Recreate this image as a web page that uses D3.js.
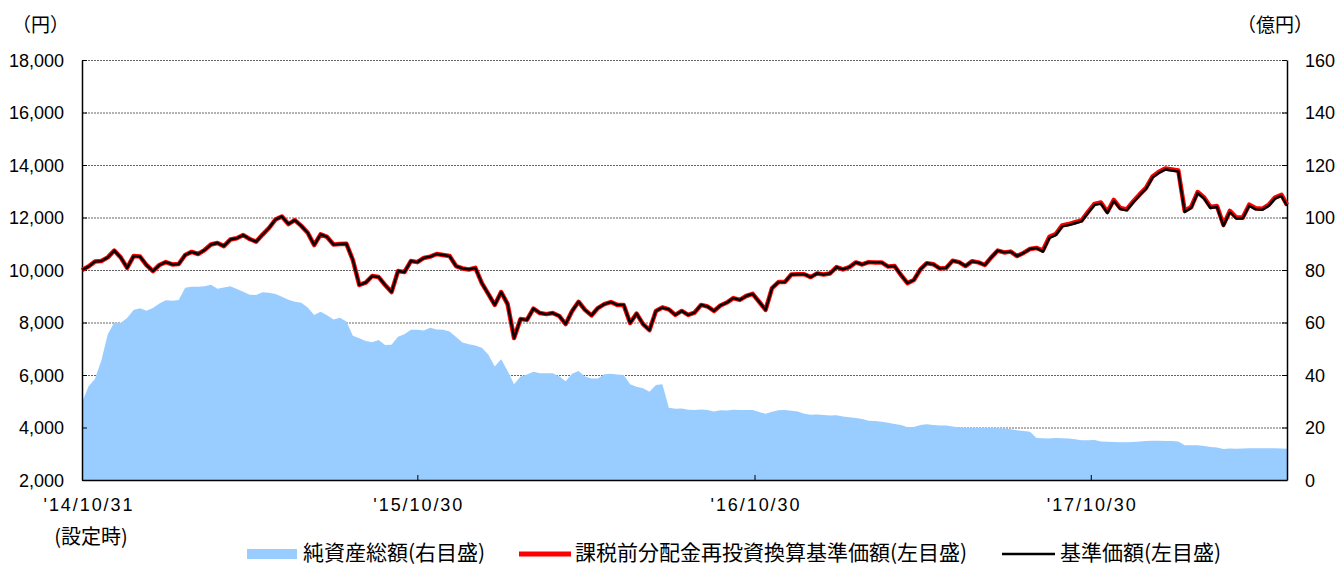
<!DOCTYPE html>
<html>
<head>
<meta charset="utf-8">
<script src="https://cdn.jsdelivr.net/npm/d3@7"></script>
<style>
  body { margin: 0; background: #fff; }
  svg text { font-family: "Liberation Sans", "Noto Sans CJK JP", sans-serif; fill: #000; }
  .jp { font-family: "Noto Sans CJK JP", sans-serif; }
</style>
</head>
<body>
<div id="chart"></div>
<script>
// Series start (設定日) and last date, weekly values in between
const startDate = "2014-10-31";
const endDate = "2018-05-31";

// 基準価額 (円), read off the chart roughly once a week
const navValues = [
  10000,10130,10320,10340,10480,10740,10480,10080,10530,10510,
  10190,9960,10190,10300,10210,10230,10570,10690,10610,10760,
  10970,11030,10910,11160,11210,11330,11180,11080,11350,11600,
  11920,12040,11750,11900,11680,11420,10950,11360,11260,10970,
  10990,11000,10380,9430,9520,9770,9730,9430,9160,9960,
  9920,10340,10300,10460,10510,10610,10570,10530,10150,10060,
  10020,10080,9500,9090,8670,9160,8700,7410,8130,8100,
  8530,8360,8320,8360,8250,7940,8440,8790,8480,8270,
  8550,8700,8780,8670,8670,7980,8340,7940,7710,8440,
  8570,8500,8290,8440,8290,8380,8670,8610,8440,8650,
  8760,8930,8860,9010,9090,8790,8480,9310,9540,9540,
  9830,9840,9840,9730,9870,9830,9870,10110,10020,10110,
  10290,10210,10300,10290,10290,10130,10150,9810,9500,9620,
  10020,10260,10220,10060,10080,10350,10300,10150,10330,10290,
  10190,10480,10740,10670,10700,10530,10650,10800,10840,10700,
  11220,11330,11660,11710,11780,11850,12170,12480,12530,12170,
  12630,12320,12270,12570,12840,13090,13520,13700,13830,13790,
  13750,12210,12360,12930,12720,12360,12400,11680,12210,11960,
  11960,12450,12310,12290,12440,12720,12820,12440
];

// 課税前分配金再投資換算基準価額 (円)
const reinvestValues = [
  10000,10130,10320,10340,10480,10740,10480,10080,10530,10510,
  10190,9960,10190,10300,10210,10230,10570,10690,10610,10760,
  10970,11030,10910,11160,11210,11330,11180,11080,11350,11600,
  11920,12040,11750,11900,11680,11420,10950,11360,11260,10970,
  10990,11000,10380,9430,9520,9770,9730,9430,9160,9960,
  9920,10340,10300,10460,10510,10610,10570,10530,10150,10060,
  10020,10080,9500,9090,8670,9160,8700,7410,8130,8100,
  8530,8360,8320,8360,8250,7940,8440,8790,8480,8270,
  8550,8700,8780,8670,8670,7980,8340,7940,7710,8440,
  8570,8500,8290,8440,8290,8380,8670,8610,8440,8650,
  8760,8930,8860,9010,9090,8790,8480,9310,9540,9540,
  9830,9840,9840,9730,9870,9830,9870,10110,10020,10110,
  10290,10210,10300,10290,10290,10130,10150,9810,9500,9620,
  10020,10260,10220,10060,10080,10350,10300,10150,10330,10290,
  10190,10480,10740,10670,10700,10530,10650,10800,10840,10740,
  11260,11370,11700,11750,11820,11890,12210,12520,12570,12210,
  12670,12360,12310,12610,12880,13130,13560,13740,13870,13830,
  13790,12250,12400,12970,12760,12400,12440,11720,12250,12000,
  12000,12490,12350,12330,12480,12760,12860,12480
];

// 純資産総額 (億円)
const netAssetValues = [
  29.5,35.6,38.5,45.5,55.5,60,59.8,61.7,64.8,65.4,
  64.5,65.5,67.2,68.5,68.3,68.6,73.2,73.6,73.6,73.8,
  74.4,72.9,73.3,73.8,72.8,71.7,70.6,70.5,71.5,71.3,
  70.9,69.8,68.7,67.9,67.5,65.7,62.9,64.1,62.8,61.1,
  61.8,60.4,55,54,53,52.5,53.3,51.4,51.5,54.6,
  55.5,57.2,57.2,57,58,57.3,57.2,56.6,54.5,52.4,
  51.7,51.2,50.4,47.8,43.2,46,41.5,36.5,39.4,40.2,
  41.2,40.7,40.7,40.7,39.5,37.6,40.5,41.5,39.4,38.7,
  38.7,40.3,40.5,40.2,40,36.5,35.5,35,33.6,36.2,
  36.5,27.5,27.1,27.2,26.8,26.7,26.9,26.7,26.1,26.6,
  26.5,26.8,26.7,26.7,26.7,25.9,25.2,26,26.6,26.7,
  26.4,26.1,25.2,24.9,25,24.8,24.6,24.7,24.2,23.9,
  23.6,23.2,22.6,22.5,22.2,21.8,21.3,21,20.1,20.2,
  21,21.2,21,20.8,20.8,20.4,20.1,19.9,19.9,19.9,
  19.9,19.9,19.8,19.6,19.3,19,18.7,18.4,16,15.9,
  15.8,16,15.9,15.8,15.5,15.1,15.1,15.2,14.7,14.6,
  14.5,14.4,14.4,14.5,14.7,14.9,15,15,14.9,14.9,
  14.7,13.2,13.2,13.2,13,12.6,12.4,11.8,12,11.9,
  12,12.1,12.1,12.1,12.1,12.1,12,11.9
];

// Axis ticks
const leftTicks = [2000, 4000, 6000, 8000, 10000, 12000, 14000, 16000, 18000];
const rightTicks = [0, 20, 40, 60, 80, 100, 120, 140, 160];
const xTickDates = ["2015-10-30", "2016-10-30", "2017-10-30"];
const xTickLabels = ["'15/10/30", "'16/10/30", "'17/10/30"];
const startLabels = ["'14/10/31", "(設定時)"];

const legendLabels = ["純資産総額(右目盛)", "課税前分配金再投資換算基準価額(左目盛)", "基準価額(左目盛)"];

// SVG area
const svgWidth = 1338;
const svgHeight = 566;

const chartMargin = { top: 60, right: 51, bottom: 86, left: 82 };
const chartWidth = svgWidth - chartMargin.left - chartMargin.right;
const chartHeight = svgHeight - chartMargin.top - chartMargin.bottom;

const svg = d3.select("#chart")
  .append("svg")
  .attr("width", svgWidth)
  .attr("height", svgHeight);

const chartGroup = svg.append("g")
  .attr("transform", `translate(${chartMargin.left}, ${chartMargin.top})`);

// dates for each weekly sample, last one is the end date
const parseDate = d3.timeParse("%Y-%m-%d");
const start = parseDate(startDate);
const end = parseDate(endDate);
const dates = navValues.map((v, i) => i === navValues.length - 1 ? end : d3.timeDay.offset(start, 7 * i));

const navData = navValues.map((v, i) => ({ date: dates[i], value: v }));
const reinvestData = reinvestValues.map((v, i) => ({ date: dates[i], value: v }));
const assetData = netAssetValues.map((v, i) => ({ date: dates[i], value: v }));

// Scales
const xTimeScale = d3.scaleTime()
  .domain([start, end])
  .range([0, chartWidth]);

const yLeftScale = d3.scaleLinear()
  .domain([2000, 18000])
  .range([chartHeight, 0]);

const yRightScale = d3.scaleLinear()
  .domain([0, 160])
  .range([chartHeight, 0]);

// Dotted gridlines
const grid = chartGroup.append("g")
  .call(d3.axisLeft(yLeftScale).tickValues(leftTicks.slice(1)).tickSize(-chartWidth).tickFormat(""));
grid.select(".domain").remove();
grid.selectAll("line")
  .attr("stroke", "#666")
  .attr("stroke-width", 1)
  .attr("stroke-dasharray", "2,1");

// Net assets area
const area = d3.area()
  .x(d => xTimeScale(d.date))
  .y0(chartHeight)
  .y1(d => yRightScale(d.value));

chartGroup.append("path")
  .datum(assetData)
  .attr("d", area)
  .attr("fill", "#99ccff");

// Axes
const leftAxis = d3.axisLeft(yLeftScale)
  .tickValues(leftTicks)
  .tickSize(-5)
  .tickSizeOuter(0)
  .tickPadding(18)
  .tickFormat(d3.format(","));

const rightAxis = d3.axisRight(yRightScale)
  .tickValues(rightTicks)
  .tickSize(-5)
  .tickSizeOuter(0)
  .tickPadding(18);

const bottomAxis = d3.axisBottom(xTimeScale)
  .tickValues(xTickDates.map(parseDate))
  .tickSize(-5)
  .tickSizeOuter(0)
  .tickPadding(18)
  .tickFormat((d, i) => xTickLabels[i]);

const leftG = chartGroup.append("g").call(leftAxis);
const rightG = chartGroup.append("g")
  .attr("transform", `translate(${chartWidth}, 0)`)
  .call(rightAxis);
const bottomG = chartGroup.append("g")
  .attr("transform", `translate(0, ${chartHeight})`)
  .call(bottomAxis);

[leftG, rightG, bottomG].forEach(g => {
  g.select(".domain").attr("stroke", "#000").attr("stroke-width", 1.5);
  g.selectAll(".tick line").attr("stroke", "#000");
  g.selectAll("text").style("font-size", "18px").attr("fill", "#000");
});
leftG.selectAll("text").attr("dy", "0.36em");
rightG.selectAll("text").attr("dy", "0.36em");
bottomG.selectAll("text").attr("textLength", 89).attr("lengthAdjust", "spacing");

// start date label
chartGroup.append("text")
  .attr("x", xTimeScale(start) + 6)
  .attr("y", chartHeight + 31)
  .attr("text-anchor", "middle")
  .attr("textLength", 89)
  .attr("lengthAdjust", "spacing")
  .style("font-size", "18px")
  .text(startLabels[0]);

chartGroup.append("text")
  .attr("class", "jp")
  .attr("x", xTimeScale(start) + 9)
  .attr("y", chartHeight + 64)
  .attr("text-anchor", "middle")
  .style("font-size", "20px")
  .text(startLabels[1]);

// Lines
const line = d3.line()
  .x(d => xTimeScale(d.date))
  .y(d => yLeftScale(d.value));

chartGroup.append("path")
  .datum(reinvestData)
  .attr("d", line)
  .attr("fill", "none")
  .attr("stroke", "#ff0000")
  .attr("stroke-width", 4.5)
  .attr("stroke-linejoin", "round");

chartGroup.append("path")
  .datum(navData)
  .attr("d", line)
  .attr("fill", "none")
  .attr("stroke", "#000")
  .attr("stroke-width", 2.4)
  .attr("stroke-linejoin", "round");

// Unit labels
svg.append("text")
  .attr("class", "jp")
  .attr("x", 12)
  .attr("y", 32)
  .style("font-size", "19px")
  .text("（円）");

svg.append("text")
  .attr("class", "jp")
  .attr("x", 1313)
  .attr("y", 32)
  .attr("text-anchor", "end")
  .style("font-size", "19px")
  .text("（億円）");

// Legend (kept just inside the bottom edge)
const legendY = 554;
const legend = svg.append("g");
legend.append("rect")
  .attr("x", 247).attr("y", legendY - 5)
  .attr("width", 50).attr("height", 10)
  .attr("fill", "#99ccff");
legend.append("line")
  .attr("x1", 519).attr("x2", 571)
  .attr("y1", legendY).attr("y2", legendY)
  .attr("stroke", "#ff0000").attr("stroke-width", 5);
legend.append("line")
  .attr("x1", 1002).attr("x2", 1055)
  .attr("y1", legendY).attr("y2", legendY)
  .attr("stroke", "#000").attr("stroke-width", 2.5);

const legendX = [303, 575, 1060];
legend.selectAll("text.legend")
  .data(legendLabels)
  .enter()
  .append("text")
  .attr("class", "legend jp")
  .attr("x", (d, i) => legendX[i])
  .attr("y", legendY + 5.5)
  .style("font-size", "21px")
  .text(d => d);
</script>
</body>
</html>
